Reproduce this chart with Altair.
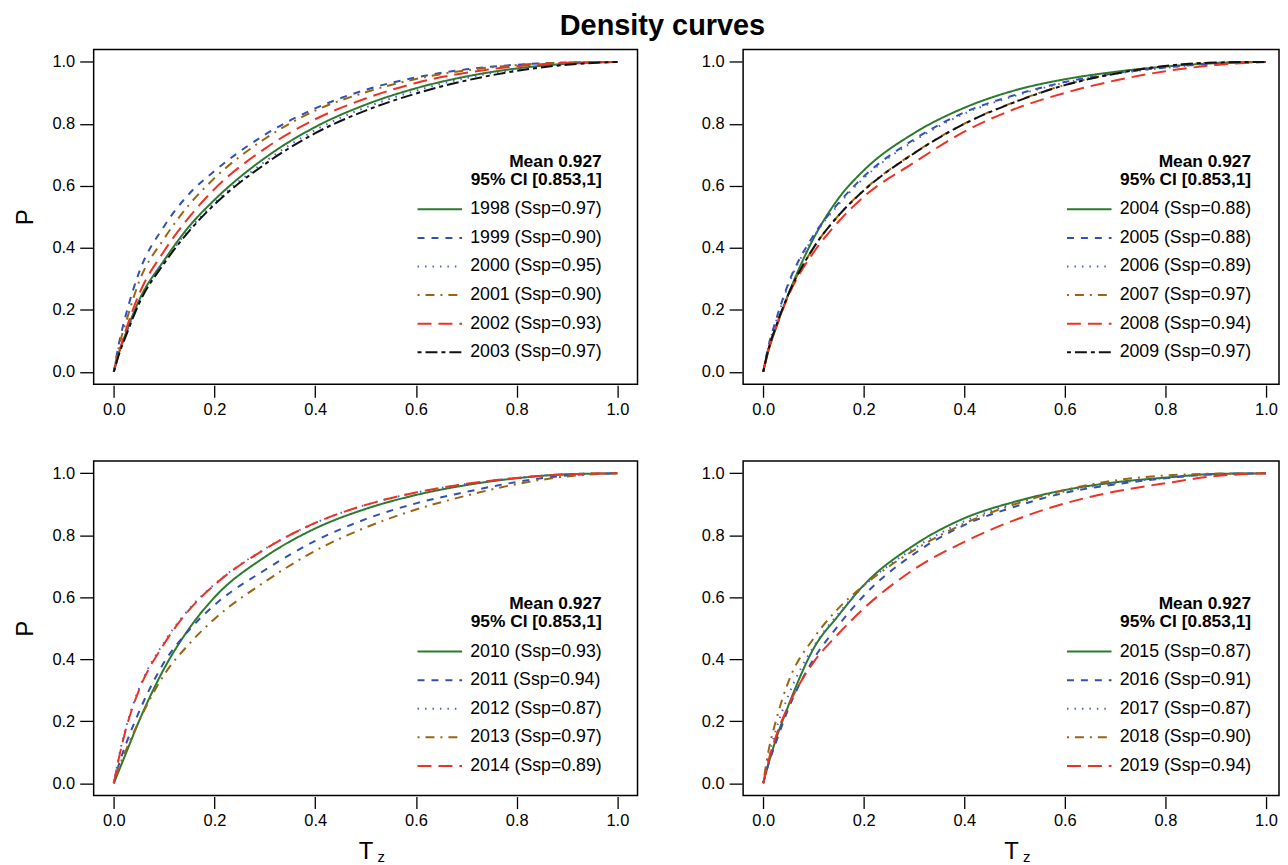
import altair as alt
import pandas as pd

# ---------------- data ----------------
tz = [0.0, 0.01, 0.025, 0.05, 0.1, 0.15, 0.2, 0.3, 0.4, 0.5, 0.6, 0.7, 0.8, 0.9, 1.0]

labels_1 = ["1998 (Ssp=0.97)", "1999 (Ssp=0.90)", "2000 (Ssp=0.95)",
            "2001 (Ssp=0.90)", "2002 (Ssp=0.93)", "2003 (Ssp=0.97)"]
p1998 = [0, 0.06, 0.13, 0.23, 0.36, 0.47, 0.555, 0.69, 0.79, 0.862, 0.915, 0.953, 0.979, 0.994, 1.0]
p1999 = [0, 0.09, 0.19, 0.32, 0.47, 0.575, 0.648, 0.765, 0.85, 0.91, 0.95, 0.976, 0.991, 0.998, 1.0]
p2000 = [0, 0.06, 0.125, 0.225, 0.355, 0.46, 0.545, 0.678, 0.78, 0.853, 0.907, 0.948, 0.976, 0.993, 1.0]
p2001 = [0, 0.08, 0.165, 0.29, 0.43, 0.54, 0.625, 0.752, 0.843, 0.902, 0.945, 0.973, 0.99, 0.998, 1.0]
p2002 = [0, 0.06, 0.14, 0.25, 0.39, 0.50, 0.59, 0.72, 0.815, 0.882, 0.932, 0.965, 0.986, 0.997, 1.0]
p2003 = [0, 0.055, 0.12, 0.22, 0.35, 0.455, 0.54, 0.67, 0.77, 0.843, 0.898, 0.94, 0.971, 0.991, 1.0]

labels_2 = ["2004 (Ssp=0.88)", "2005 (Ssp=0.88)", "2006 (Ssp=0.89)",
            "2007 (Ssp=0.97)", "2008 (Ssp=0.94)", "2009 (Ssp=0.97)"]
p2004 = [0, 0.065, 0.14, 0.25, 0.43, 0.56, 0.65, 0.77, 0.852, 0.908, 0.944, 0.968, 0.985, 0.996, 1.0]
p2005 = [0, 0.08, 0.165, 0.285, 0.44, 0.545, 0.63, 0.75, 0.837, 0.893, 0.935, 0.963, 0.982, 0.995, 1.0]
p2006 = [0, 0.08, 0.16, 0.28, 0.435, 0.54, 0.625, 0.745, 0.833, 0.89, 0.933, 0.962, 0.981, 0.995, 1.0]
p2007 = [0, 0.07, 0.145, 0.25, 0.40, 0.505, 0.586, 0.706, 0.801, 0.871, 0.926, 0.963, 0.987, 0.998, 1.0]
p2008 = [0, 0.07, 0.14, 0.245, 0.385, 0.485, 0.565, 0.675, 0.775, 0.848, 0.90, 0.94, 0.97, 0.99, 1.0]
p2009 = [0, 0.07, 0.145, 0.25, 0.40, 0.505, 0.585, 0.705, 0.80, 0.87, 0.925, 0.962, 0.987, 0.998, 1.0]

labels_3 = ["2010 (Ssp=0.93)", "2011 (Ssp=0.94)", "2012 (Ssp=0.87)",
            "2013 (Ssp=0.97)", "2014 (Ssp=0.89)"]
p2010 = [0, 0.04, 0.10, 0.20, 0.37, 0.50, 0.60, 0.73, 0.822, 0.885, 0.93, 0.962, 0.984, 0.997, 1.0]
p2011 = [0, 0.06, 0.13, 0.23, 0.39, 0.495, 0.575, 0.688, 0.782, 0.852, 0.903, 0.94, 0.972, 0.993, 1.0]
p2012 = [0, 0.085, 0.185, 0.305, 0.455, 0.563, 0.642, 0.756, 0.84, 0.898, 0.938, 0.966, 0.985, 0.997, 1.0]
p2013 = [0, 0.05, 0.11, 0.20, 0.35, 0.45, 0.53, 0.65, 0.75, 0.825, 0.883, 0.928, 0.965, 0.99, 1.0]
p2014 = [0, 0.08, 0.18, 0.30, 0.45, 0.56, 0.64, 0.755, 0.84, 0.898, 0.938, 0.966, 0.985, 0.997, 1.0]

labels_4 = ["2015 (Ssp=0.87)", "2016 (Ssp=0.91)", "2017 (Ssp=0.87)",
            "2018 (Ssp=0.90)", "2019 (Ssp=0.94)"]
p2015 = [0, 0.06, 0.14, 0.25, 0.434, 0.542, 0.639, 0.768, 0.855, 0.908, 0.946, 0.971, 0.986, 0.998, 1.0]
p2016 = [0, 0.06, 0.13, 0.24, 0.40, 0.51, 0.605, 0.74, 0.833, 0.892, 0.937, 0.964, 0.984, 0.997, 1.0]
p2017 = [0, 0.08, 0.17, 0.283, 0.44, 0.548, 0.636, 0.758, 0.845, 0.903, 0.942, 0.968, 0.985, 0.997, 1.0]
p2018 = [0, 0.10, 0.20, 0.327, 0.467, 0.565, 0.638, 0.752, 0.838, 0.90, 0.946, 0.977, 0.993, 0.999, 1.0]
p2019 = [0, 0.07, 0.15, 0.25, 0.39, 0.483, 0.564, 0.69, 0.779, 0.849, 0.903, 0.941, 0.968, 0.991, 1.0]

legend_title = ["Mean 0.927", "95% CI [0.853,1]"]
tick_values = [0.0, 0.2, 0.4, 0.6, 0.8, 1.0]

# line styles: solid green, dashed blue, dotted blue, dot-dash brown, long-dash red, two-dash black
colors = ["#2b7a2e", "#3150b0", "#4d5fd6", "#9c6412", "#ee3124", "#111111"]
dashes = [[1, 0], [7, 7], [1.5, 6], [2, 6, 9, 6], [14, 7], [4, 4, 12, 4]]

FONT = "Liberation Sans"
H = 336


def long_table(labels, series):
    rows = []
    for lab, vals in zip(labels, series):
        for x, p in zip(tz, vals):
            rows.append({"Tz": x, "P": p, "series": lab})
    return pd.DataFrame(rows)


def panel(labels, series, width, xmax, left, bottom, legend_y):
    df = long_table(labels, series)
    n = len(labels)
    leg = alt.Legend(
        title=legend_title, orient="none", legendX=324, legendY=legend_y,
        titleAnchor="end", titleAlign="right", titleFontSize=17.4, titleFontWeight="bold",
        titleLineHeight=18, titlePadding=12, titleFont=FONT, titleColor="black",
        labelFontSize=17.8, labelFont=FONT, labelColor="black", labelLimit=300, labelOffset=7,
        symbolType="stroke", symbolSize=2000, symbolStrokeWidth=2,
        clipHeight=18, rowPadding=10.7,
    )
    xaxis = alt.Axis(values=tick_values, format=".1f", grid=False, domain=False,
                     tickSize=12, tickColor="black", tickWidth=1.3, offset=1,
                     labelFontSize=16.5, labelFont=FONT, labelColor="black", labelPadding=4,
                     title="T" if bottom else None, titleFontSize=24, titleFont=FONT,
                     titleFontWeight="normal", titleColor="black", titlePadding=11)
    yaxis = alt.Axis(values=tick_values, format=".1f", grid=False, domain=False,
                     tickSize=13, tickColor="black", tickWidth=1.3, offset=1,
                     labelFontSize=16.5, labelFont=FONT, labelColor="black", labelPadding=5,
                     title="P" if left else None, titleFontSize=24, titleFont=FONT,
                     titleFontWeight="normal", titleColor="black", titlePadding=14)
    lines = alt.Chart(df).mark_line(strokeWidth=2, interpolate="monotone").encode(
        x=alt.X("Tz:Q", scale=alt.Scale(domain=[-0.04, xmax], nice=False, zero=False), axis=xaxis),
        y=alt.Y("P:Q", scale=alt.Scale(domain=[-0.04, 1.04], nice=False, zero=False), axis=yaxis),
        color=alt.Color("series:N", scale=alt.Scale(domain=labels, range=colors[:n]),
                        legend=leg, sort=labels),
        strokeDash=alt.StrokeDash("series:N", scale=alt.Scale(domain=labels, range=dashes[:n]),
                                  legend=leg, sort=labels),
    )
    layer = lines
    if bottom:
        sub = alt.Chart(pd.DataFrame({"t": ["z"]})).mark_text(
            fontSize=15, font=FONT, align="left", baseline="alphabetic", color="black"
        ).encode(text="t:N", x=alt.value(width / 2 + 12), y=alt.value(H + 67))
        layer = alt.layer(lines, sub)
    return layer.properties(width=width, height=H)


p1 = panel(labels_1, [p1998, p1999, p2000, p2001, p2002, p2003], 546, 1.04, True, False, 104)
p2 = panel(labels_2, [p2004, p2005, p2006, p2007, p2008, p2009], 538, 1.026, False, False, 104)
p3 = panel(labels_3, [p2010, p2011, p2012, p2013, p2014], 546, 1.04, True, True, 135)
p4 = panel(labels_4, [p2015, p2016, p2017, p2018, p2019], 538, 1.026, False, True, 135)

chart = alt.concat(p1, p2, p3, p4, columns=2, spacing={"row": 41, "column": 62}).resolve_scale(
    color="independent", strokeDash="independent", x="independent", y="independent"
).properties(
    title=alt.TitleParams("Density curves", fontSize=29, fontWeight="bold", font=FONT,
                          anchor="middle", offset=8, dx=16, color="black"),
    padding={"left": 5, "top": 2, "right": 0, "bottom": 0},
    background="white",
).configure_view(stroke="black", strokeWidth=1.5)

chart.save("out.html", embed_options={"renderer": "svg", "actions": False})
